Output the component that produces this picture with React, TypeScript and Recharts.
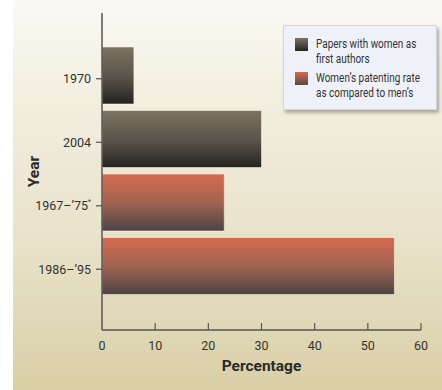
import React from "react";
import { BarChart, Bar, XAxis, YAxis, Cell, Legend } from "recharts";

// Year labels, top to bottom
const years = ["1970", "2004", "1967\u2013\u201975*", "1986\u2013\u201995"];
// Percentage value for each year
const percentages = [6, 30, 23, 55];
// Which measure each row belongs to (0 = papers, 1 = patenting)
const seriesIndex = [0, 0, 1, 1];
const seriesNames = [
  ["Papers with women as", "first authors"],
  ["Women\u2019s patenting rate", "as compared to men\u2019s"],
];
const xTicks = [0, 10, 20, 30, 40, 50, 60];

const data = years.map((year, i) => ({
  year,
  value: percentages[i],
  series: seriesIndex[i],
}));

const FONT = "Roboto, 'Liberation Sans', sans-serif";
const gradientIds = ["gradDark", "gradRed"];

const YTick = (props: any) => {
  const { x, y, payload } = props;
  const label: string = payload.value;
  const star = label.endsWith("*");
  const text = star ? label.slice(0, -1) : label;
  return (
    <g>
      <line x1={x - 6} x2={x} y1={y + 3} y2={y + 3} stroke="#555" strokeWidth={1.2} />
      <text
        x={x - 11}
        y={y + 3}
        textAnchor="end"
        dominantBaseline="central"
        fontFamily={FONT}
        fontSize={12.5}
        fill="#333"
      >
        {text}
        {star ? (
          <tspan fontSize={7} dy={-4}>
            *
          </tspan>
        ) : null}
      </text>
    </g>
  );
};

const XTick = (props: any) => {
  const { x, y, payload } = props;
  return (
    <g>
      {payload.value !== 0 ? (
        <line x1={x} x2={x} y1={y - 7} y2={y} stroke="#555" strokeWidth={1.2} />
      ) : null}
      <text
        x={x}
        y={y + 15}
        textAnchor="middle"
        dominantBaseline="central"
        fontFamily={FONT}
        fontSize={12.5}
        fill="#333"
      >
        {payload.value}
      </text>
    </g>
  );
};

const LegendBox = () => (
  <div
    style={{
      width: 154,
      height: 85,
      boxSizing: "border-box",
      background: "#eef2f8",
      border: "1px solid #cfd6e0",
      boxShadow: "2px 3px 3px rgba(90,90,80,0.45)",
      padding: "11px 0 0 11px",
      fontFamily: FONT,
      fontSize: 12.3,
      color: "#333",
      lineHeight: "15px",
    }}
  >
    {seriesNames.map((lines, i) => (
      <div key={i} style={{ display: "flex", alignItems: "flex-start", marginBottom: 4 }}>
        <svg width={13} height={13} style={{ marginTop: 1, marginRight: 8, flex: "none" }}>
          <defs>
            <linearGradient id={`lg${i}`} x1="0" y1="0" x2="0" y2="1">
              {i === 0 ? (
                <>
                  <stop offset="0%" stopColor="#7a7262" />
                  <stop offset="100%" stopColor="#262422" />
                </>
              ) : (
                <>
                  <stop offset="0%" stopColor="#d46a50" />
                  <stop offset="100%" stopColor="#5a4a46" />
                </>
              )}
            </linearGradient>
          </defs>
          <rect width={13} height={13} fill={`url(#lg${i})`} />
        </svg>
        <div style={{ whiteSpace: "nowrap", transform: "scaleX(0.81)", transformOrigin: "left top" }}>
          {lines.map((l, j) => (
            <div key={j}>{l}</div>
          ))}
        </div>
      </div>
    ))}
  </div>
);

export default function App() {
  return (
    <div
      style={{
        position: "absolute",
        left: 0,
        top: 0,
        width: 442,
        height: 390,
        background: "#ffffff",
      }}
    >
      <div
        style={{
          position: "absolute",
          left: 13,
          top: 0,
          width: 429,
          height: 390,
          background: "linear-gradient(to bottom, #fbf9f3 0%, #f2eee0 25%, #e9e3cb 60%, #d9cfa6 100%)",
        }}
      />
      <div style={{ position: "absolute", left: 0, top: 0 }}>
        <BarChart
          width={442}
          height={390}
          data={data}
          layout="vertical"
          margin={{ top: 13, right: 21, bottom: 30, left: 0 }}
        >
          <defs>
            <linearGradient id="gradDark" x1="0" y1="0" x2="0" y2="1">
              <stop offset="0%" stopColor="#7b7363" />
              <stop offset="55%" stopColor="#575248" />
              <stop offset="100%" stopColor="#242220" />
            </linearGradient>
            <linearGradient id="gradRed" x1="0" y1="0" x2="0" y2="1">
              <stop offset="0%" stopColor="#d56a50" />
              <stop offset="50%" stopColor="#a06452" />
              <stop offset="100%" stopColor="#4c4444" />
            </linearGradient>
          </defs>
          <XAxis
            type="number"
            domain={[0, 60]}
            ticks={xTicks}
            height={30}
            tickSize={0}
            tickMargin={0}
            tickLine={false}
            axisLine={{ stroke: "#555", strokeWidth: 1.5 }}
            tick={<XTick />}
            interval={0}
            label={{
              value: "Percentage",
              position: "insideBottom",
              offset: -11,
              style: { fontFamily: FONT, fontSize: 15.5, fontWeight: 700, fill: "#2a2a2a" },
            }}
          />
          <YAxis
            type="category"
            dataKey="year"
            width={102}
            padding={{ top: 31, bottom: 32 }}
            tickSize={0}
            tickMargin={0}
            tickLine={false}
            axisLine={{ stroke: "#555", strokeWidth: 1.5 }}
            tick={<YTick />}
            interval={0}
            label={{
              value: "Year",
              angle: -90,
              position: "insideLeft",
              offset: 33,
              style: { fontFamily: FONT, fontSize: 15.5, fontWeight: 700, fill: "#2a2a2a", textAnchor: "middle" },
            }}
          />
          <Legend
            layout="horizontal"
            verticalAlign="middle"
            align="center"
            content={<LegendBox />}
            wrapperStyle={{ position: "absolute", left: 283, top: 25, width: 154, height: 85 }}
          />
          <Bar
            dataKey="value"
            barSize={57}
            isAnimationActive={false}
            stroke="rgba(255,248,230,0.55)"
            strokeWidth={1}
          >
            {data.map((d, i) => (
              <Cell key={i} fill={`url(#${gradientIds[d.series]})`} />
            ))}
          </Bar>
        </BarChart>
      </div>
    </div>
  );
}
